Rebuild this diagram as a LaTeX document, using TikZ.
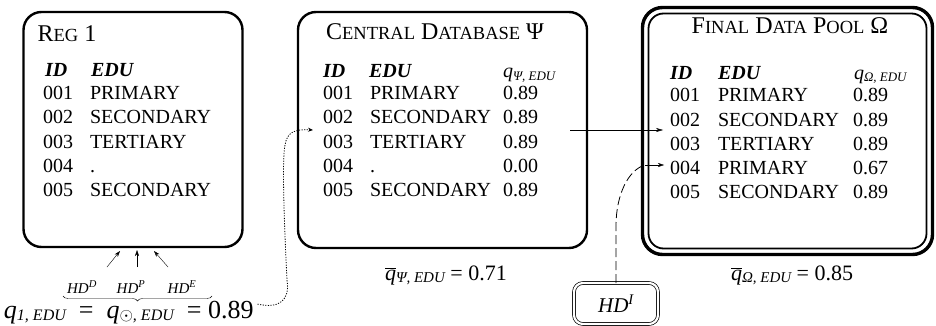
\documentclass[tikz,border=0pt]{standalone}
\usepackage{fontspec}
\setmainfont{Liberation Serif}
\usetikzlibrary{arrows.meta,decorations.pathreplacing,positioning}
\newcommand{\BigSc}[2]{#1{\fontsize{18.5}{18.5}\selectfont #2}}
\newcommand{\SubTxt}[2][13]{\raisebox{-2pt}{\fontsize{#1}{#1}\selectfont\itshape #2}}
\newcommand{\QBar}{$\overline{\hbox{\textit{q}}}$}

\begin{document}
\begin{tikzpicture}[x=1pt,y=-1pt,
  every node/.style={inner sep=0pt,outer sep=0pt},
  row/.style={anchor=base west,font=\fontsize{20}{20}\selectfont},
  hdr/.style={anchor=base west,font=\fontsize{20}{20}\selectfont\bfseries\itshape},
  ttl/.style={anchor=base,font=\fontsize{24}{24}\selectfont},
  box/.style={draw,rounded corners=18pt,line width=2.4pt}]
\useasboundingbox (0,0) rectangle (936,326);

% the three boxes
\node[box,minimum width=219pt,minimum height=235pt] (reg) at (133,129.5) {};
\node[box,minimum width=289pt,minimum height=236pt] (central) at (442.5,130) {};
\node[box,line width=3.4pt,rounded corners=20pt,minimum width=290pt,minimum height=247pt] (pool) at (787.5,131) {};
\node[draw,line width=1.8pt,rounded corners=15pt,minimum width=278pt,minimum height=235pt] (poolin) at (pool.center) {};

% titles
\node[ttl] (regtitle) at (67,42) {\BigSc{R}{EG} 1};
\node[ttl] (centraltitle) at (435,40) {\BigSc{C}{ENTRAL} \BigSc{D}{ATABASE} Ψ};
\node[ttl] (pooltitle) at (790,34) {\BigSc{F}{INAL} \BigSc{D}{ATA} \BigSc{P}{OOL} Ω};

% headers
\node[hdr] (regid) at (45,77) {ID};
\node[hdr] (regedu) at (91,77) {EDU};
\node[hdr] (centralid) at (323,78) {ID};
\node[hdr] (centraledu) at (369,78) {EDU};
\node[row] (centralq) at (503,78) {\textit{q}\SubTxt{Ψ, EDU}};
\node[hdr] (poolid) at (670,80) {ID};
\node[hdr] (pooledu) at (718,80) {EDU};
\node[row] (poolq) at (854,80) {\textit{q}\SubTxt{Ω, EDU}};

% table rows
\foreach \y/\id/\edu [count=\i] in {100/001/PRIMARY,124/002/SECONDARY,148/003/TERTIARY,172/004/.,196/005/SECONDARY}
{
\node[row] (regrow\i) at (43,\y) {\id};
\node[row] (regedu\i) at (90,\y) {\edu};
}
\foreach \y/\id/\edu/\q [count=\i] in {100/001/PRIMARY/0.89,124/002/SECONDARY/0.89,148/003/TERTIARY/0.89,172/004/./0.00,196/005/SECONDARY/0.89}
{
\node[row] (centralrow\i) at (323,\y) {\id};
\node[row] (centraledu\i) at (370,\y) {\edu};
\node[row] (centralq\i) at (503,\y) {\q};
}
\foreach \y/\id/\edu/\q [count=\i] in {102/001/PRIMARY/0.89,126/002/SECONDARY/0.89,150/003/TERTIARY/0.89,174/004/PRIMARY/0.67,198/005/SECONDARY/0.89}
{
\node[row] (poolrow\i) at (670,\y) {\id};
\node[row] (pooledu\i) at (718,\y) {\edu};
\node[row] (poolq\i) at (853,\y) {\q};
}

% quality below the boxes
\node[row,font=\fontsize{22}{22}\selectfont] (qpsi) at (385,280) {\QBar\SubTxt[15]{Ψ, EDU} = 0.71};
\node[row,font=\fontsize{22}{22}\selectfont] (qomega) at (731,280) {\QBar\SubTxt[15]{Ω, EDU} = 0.85};

% hot deck labels and arrows
\foreach \x/\s/\t [count=\i] in {82/D/107,131/P/137,182/E/168}
{
\node[anchor=base,font=\fontsize{15}{15}\selectfont\itshape] (hd\s) at (\x,293) {HD$^{\mathit{\s}}$};
\coordinate (hdtail\i) at (\t,267);
}
\draw[-{Stealth[length=6pt,width=4pt]}] (hdtail1) -- (120,251);
\draw[-{Stealth[length=6pt,width=4pt]}] (hdtail2) -- (137,250);
\draw[-{Stealth[length=6pt,width=4pt]}] (hdtail3) -- (154,251);

% brace
\draw[decorate,decoration={brace,amplitude=5pt}] (212,296) -- (63,296);

\node[anchor=base west,font=\fontsize{26}{26}\selectfont] (qone) at (4,318)
  {\textit{q}\SubTxt[16]{1, EDU}\ \ =\ \ \textit{q}\SubTxt[16]{$\odot$, EDU}\ \ = 0.89};

% dotted link into central database
\coordinate (centralin) at (313,130);
\draw[dash pattern=on 1.2pt off 1.4pt,line width=0.8pt,-{Stealth[length=5pt,width=4pt]}] (qone.east) ++(4,-8)
  .. controls (280,309) and (290,300) .. (287,280)
  .. controls (284,220) and (282,160) .. (285,145)
  .. controls (287,132) and (295,129) .. (centralin);

% central database to final pool
\coordinate (centralout) at (570,130);
\coordinate (poolin2) at (663,130);
\draw[-{Stealth[length=7pt,width=4pt]}] (centralout) -- (poolin2);

% imputation box
\node[draw,double,double distance=2.2pt,line width=0.7pt,rounded corners=9pt,minimum width=84pt,minimum height=41pt,font=\fontsize{21}{21}\selectfont\itshape] (hdi) at (616,303.5) {HD$^{\mathit{I}}$};
\coordinate (hdibend) at (645,165);
\coordinate (poolrow4in) at (664,165);
\draw[dash pattern=on 9pt off 4pt,line width=0.8pt] (hdi.north) -- ++(0,-57)
  .. controls (616,195) and (628,170) .. (hdibend);
\draw[-{Stealth[length=6pt,width=4pt]}] (hdibend) -- (poolrow4in);
\end{tikzpicture}
\end{document}
